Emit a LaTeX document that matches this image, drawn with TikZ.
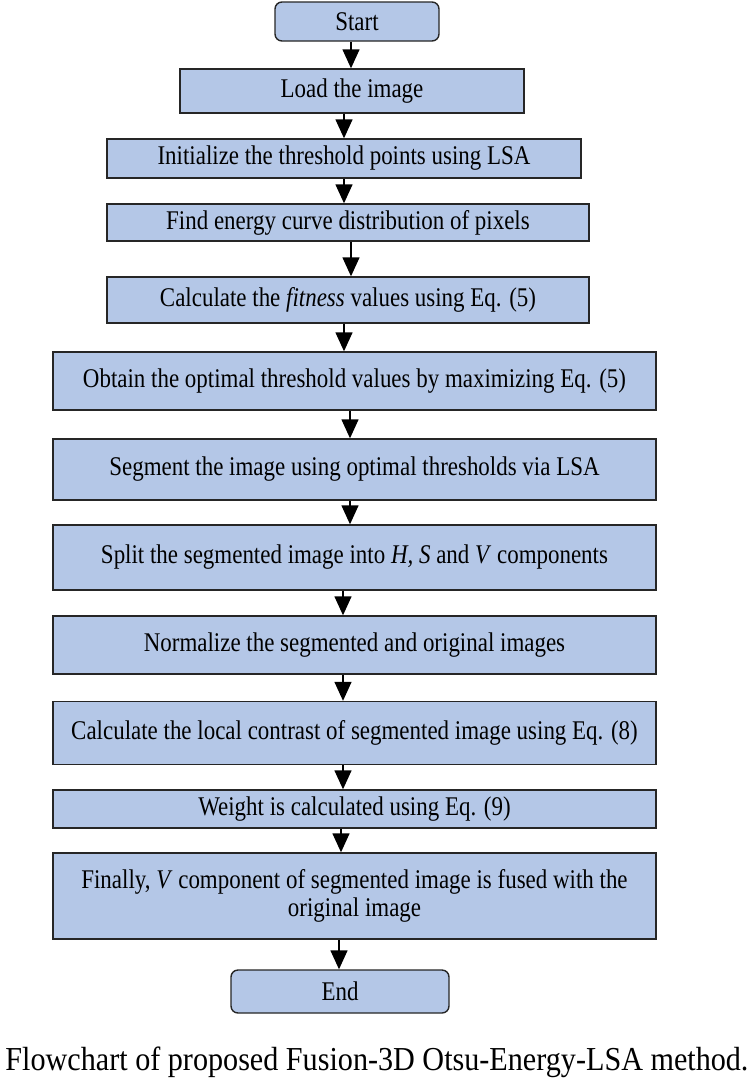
\documentclass[tikz,border=0pt]{standalone}
\usepackage{fontspec}
\setmainfont{Liberation Serif}[FakeStretch=0.85]
\newfontfamily\capfont{Liberation Serif}[FakeStretch=0.9]
\usetikzlibrary{arrows.meta}
\definecolor{boxblue}{RGB}{180,199,231}
\begin{document}
\begin{tikzpicture}[x=1pt,y=-1pt,
  box/.style={draw=black!85, fill=boxblue, line width=1.4pt, inner sep=0pt, align=center, font=\fontsize{27}{28}\selectfont},
  term/.style={box, rounded corners=7pt},
  flow/.style={line width=1.4pt, -{Triangle[length=19pt,width=17pt]}}]
\useasboundingbox (0,0) rectangle (754,1085);
\node[term, minimum width=164, minimum height=39] (start) at (357,21.5) {Start};
\node[box, minimum width=344, minimum height=44] (load) at (352,91) {Load the image};
\node[box, minimum width=474, minimum height=39] (init) at (344,158.5) {Initialize the threshold points using LSA};
\node[box, minimum width=482, minimum height=37] (find) at (348,222.5) {Find energy curve distribution of pixels};
\node[box, minimum width=482, minimum height=46] (calc) at (348,300) {Calculate the \textit{fitness} values using Eq. (5)};
\node[box, minimum width=603, minimum height=58] (obtain) at (354.5,381) {Obtain the optimal threshold values by maximizing Eq. (5)};
\node[box, minimum width=603, minimum height=61] (segment) at (354.5,469.5) {Segment the image using optimal thresholds via LSA};
\node[box, minimum width=603, minimum height=65] (split) at (354.5,557.5) {Split the segmented image into \textit{H, S} and \textit{V} components};
\node[box, minimum width=603, minimum height=58] (norm) at (354.5,645) {Normalize the segmented and original images};
\node[box, minimum width=603, minimum height=63] (contrast) at (354.5,733) {Calculate the local contrast of segmented image using Eq. (8)};
\node[box, minimum width=603, minimum height=38] (weight) at (354.5,809) {Weight is calculated using Eq. (9)};
\node[box, minimum width=603, minimum height=86] (fused) at (354.5,896) {Finally, \textit{V} component of segmented image is fused with the\\original image};
\node[term, minimum width=218, minimum height=43] (stop) at (340,991.5) {End};
\node[font=\capfont\fontsize{33.5}{37}\selectfont] (caption) at (377,1062) {Flowchart of proposed Fusion-3D Otsu-Energy-LSA method.};
% arrows between the steps
\foreach \a/\b/\x in {start/load/351, load/init/344, init/find/344, find/calc/351, calc/obtain/344, obtain/segment/350, segment/split/350, split/norm/343, norm/contrast/343, contrast/weight/343, weight/fused/341, fused/stop/339}
  \draw[flow] (\a.south -| \x,0) -- (\b.north -| \x,0);
\end{tikzpicture}
\end{document}
